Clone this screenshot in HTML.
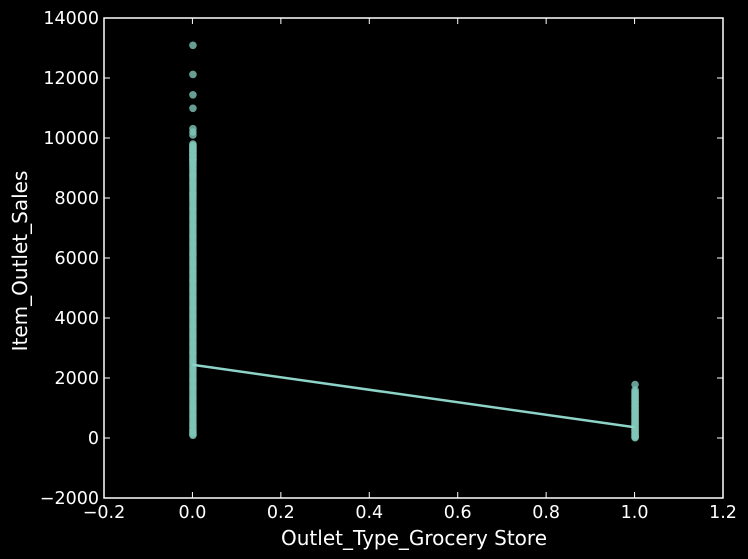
<!DOCTYPE html>
<html><head><meta charset="utf-8"><style>
html,body{margin:0;padding:0;background:#000;}
svg{display:block;font-family:"DejaVu Sans","Liberation Sans",sans-serif;}
</style></head><body>
<svg id="chart" width="748" height="559">
<rect width="748" height="559" fill="#000"/>
<g id="marks"></g>
<g id="axes"></g>
</svg>
<script>
const xTicks = [-0.2, 0.0, 0.2, 0.4, 0.6, 0.8, 1.0, 1.2];
const xTickLabels = ["\u22120.2","0.0","0.2","0.4","0.6","0.8","1.0","1.2"];
const yTicks = [-2000, 0, 2000, 4000, 6000, 8000, 10000, 12000, 14000];
const yTickLabels = ["\u22122000","0","2000","4000","6000","8000","10000","12000","14000"];
const salesAtZero = [13090,12120,11440,10990,10310,10200,10100,9800,9760,9720,9680,9650,9610,9580,9540,9500,9460,9430,9390,9350,9310,9280,9240,9200,9150,9100,9040,8980,8920,8850,8800,8750,8690,8620,8550,8480,8420,8350,8280,8200,8140,8080,8020,7950,7880,7800,7720,7650,7580,7500,7420,7350,7280,7200,7120,7050,6980,6900,6820,6750,6680,6600,6520,6450,6380,6300,6220,6150,6080,6000,5920,5850,5780,5700,5620,5550,5480,5400,5320,5250,5180,5100,5020,4950,4880,4800,4720,4650,4580,4500,4420,4350,4280,4200,4120,4050,3980,3900,3820,3750,3680,3600,3520,3450,3380,3300,3220,3150,3080,3000,2920,2850,2780,2700,2620,2550,2480,2400,2320,2250,2180,2100,2020,1950,1880,1800,1720,1650,1580,1500,1420,1350,1280,1200,1120,1050,980,900,820,750,680,600,520,450,380,300,240,180,130,90];
const salesAtOne = [1780,1600,1540,1500,1460,1420,1370,1330,1290,1250,1210,1170,1120,1080,1040,1000,960,920,880,840,800,760,720,680,640,600,560,520,480,440,400,360,320,280,240,200,160,120,90,60,30,10];
const fitX = [0, 1];
const fitY = [2440, 360];

const X0=104, X1=723, Y0=18, Y1=498;
const xScale = v => X0 + (v - (-0.2)) / 1.4 * (X1 - X0);
const yScale = v => Y1 - (v - (-2000)) / 16000 * (Y1 - Y0);
const NS = "http://www.w3.org/2000/svg";
const marks = document.getElementById('marks');
const axes = document.getElementById('axes');
function mk(tag, attrs, parent){const e=document.createElementNS(NS,tag);for(const k in attrs)e.setAttribute(k,attrs[k]);parent.appendChild(e);return e;}

salesAtZero.forEach(v=>{
  const c=mk('circle',{cx:xScale(0)+0.5,cy:yScale(v),r:3.8,fill:'#7fc6b8','fill-opacity':0.8},marks);
  
  
});
salesAtOne.forEach(v=>{
  const c=mk('circle',{cx:xScale(1)+0.5,cy:yScale(v),r:3.8,fill:'#7fc6b8','fill-opacity':0.8},marks);
  
  
});
const ln=mk('line',{x1:xScale(fitX[0]),y1:yScale(fitY[0]),x2:xScale(fitX[1]),y2:yScale(fitY[1]),stroke:'#8dd3c7','stroke-width':2.5},marks);



const frame=mk('rect',{x:X0,y:Y0,width:X1-X0,height:Y1-Y0,fill:'none',stroke:'#fff','stroke-width':1.5},axes);



xTicks.forEach((t,i)=>{
  const x=xScale(t);
  mk('line',{x1:x,y1:Y1,x2:x,y2:Y1-6,stroke:'#fff','stroke-width':1},axes);
  mk('line',{x1:x,y1:Y0,x2:x,y2:Y0+6,stroke:'#fff','stroke-width':1},axes);
  const tx=mk('text',{x:x,y:Y1+20,fill:'#fff','font-size':17.5,'text-anchor':'middle'},axes);
  tx.textContent=xTickLabels[i];
  
  
});
yTicks.forEach((t,i)=>{
  const y=yScale(t);
  mk('line',{x1:X0,y1:y,x2:X0+6,y2:y,stroke:'#fff','stroke-width':1},axes);
  mk('line',{x1:X1,y1:y,x2:X1-6,y2:y,stroke:'#fff','stroke-width':1},axes);
  const tx=mk('text',{x:X0-5,y:y+6,fill:'#fff','font-size':17.5,'text-anchor':'end'},axes);
  tx.textContent=yTickLabels[i];
  
  
});
const xt=mk('text',{x:414,y:545,fill:'#fff','font-size':20,'text-anchor':'middle'},axes);
xt.textContent='Outlet_Type_Grocery Store';


const yt=mk('text',{x:0,y:0,fill:'#fff','font-size':20,'text-anchor':'middle',transform:'translate(27,261) rotate(-90)'},axes);
yt.textContent='Item_Outlet_Sales';


</script>
</body></html>
